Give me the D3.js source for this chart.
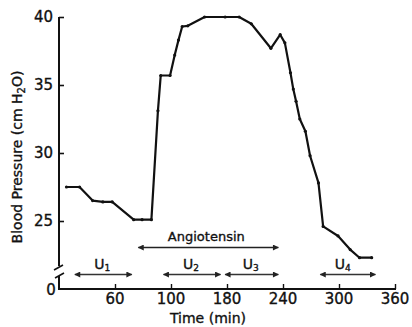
<!DOCTYPE html>
<html>
<head>
<meta charset="utf-8">
<script src="https://cdn.jsdelivr.net/npm/d3@7"></script>
<style>
  html, body { margin: 0; padding: 0; background: #fff; }
  svg { display: block; }
  text { font-family: "DejaVu Sans", sans-serif; fill: #111; stroke: #111; stroke-width: 0.35px; }
</style>
</head>
<body>
<script>
// ---- data ----
const timeMin = [8, 22, 36, 47, 57, 80, 89, 99, 106, 109, 119, 124, 128, 132, 138, 156, 178, 193, 206, 227, 237, 242, 248, 251, 254, 258, 264, 269, 278, 283, 299, 312, 322, 335];
const pressure = [27.5, 27.5, 26.5, 26.4, 26.4, 25.1, 25.1, 25.1, 33.1, 35.7, 35.7, 37.2, 38.3, 39.3, 39.35, 40.0, 40.0, 40.0, 39.5, 37.7, 38.7, 38.1, 35.9, 34.7, 33.8, 32.5, 31.6, 29.8, 27.8, 24.6, 23.9, 22.9, 22.3, 22.3];
const yTicks = [25, 30, 35, 40];
const xTicks = [60, 120, 180, 240, 300, 360];
const xTickLabels = ["60", "100", "180", "240", "300", "360"];
const periodNames = ["U", "U", "U", "U"];
const periodSubs = ["1", "2", "3", "4"];
const periodStart = [17, 112, 178, 280];
const periodEnd = [78, 173, 235, 339];
const infusionLabel = "Angiotensin";
const infusionStart = 85;
const infusionEnd = 235;

const W = 412, H = 327;
const svg = d3.select("body").append("svg").attr("width", W).attr("height", H);

const x = d3.scaleLinear().domain([0, 360]).range([59, 395]);
const y = d3.scaleLinear().domain([25, 40]).range([221, 17]);
const axisY0 = 289; // baseline (0) position below the break

// defs: arrowheads
const defs = svg.append("defs");
function marker(id, orient) {
  defs.append("marker").attr("id", id)
    .attr("viewBox", "0 0 10 10").attr("refX", 9).attr("refY", 5)
    .attr("markerWidth", 7).attr("markerHeight", 6)
    .attr("markerUnits", "userSpaceOnUse")
    .attr("orient", orient)
    .append("path").attr("d", "M0,0 L10,5 L0,10 Z").attr("fill", "#222");
}
marker("ahEnd", "auto");
marker("ahStart", "auto-start-reverse");

// ---- axes ----
const axisStroke = "#111";
const yAxis = d3.axisRight(y).tickValues(yTicks).tickSize(5).tickFormat("");
const gy = svg.append("g").attr("transform", "translate(59,0)").call(yAxis);
gy.select(".domain").remove();
gy.selectAll(".tick line").attr("stroke", axisStroke).attr("stroke-width", 1.6);
svg.append("line").attr("x1", 59).attr("x2", 59).attr("y1", y(40)).attr("y2", 266)
  .attr("stroke", axisStroke).attr("stroke-width", 2);
// break marks
svg.append("path").attr("d", "M54,270 L63,265").attr("stroke", axisStroke).attr("stroke-width", 1.6).attr("fill", "none");
svg.append("path").attr("d", "M55,278 L64,273").attr("stroke", axisStroke).attr("stroke-width", 1.6).attr("fill", "none");
svg.append("line").attr("x1", 59).attr("x2", 59).attr("y1", 276).attr("y2", axisY0)
  .attr("stroke", axisStroke).attr("stroke-width", 2);

// y tick labels
svg.append("g").selectAll("text").data(yTicks).join("text")
  .attr("x", 53).attr("y", d => y(d)).attr("dy", "0.36em")
  .attr("text-anchor", "end").attr("font-size", 15).text(d => d);
svg.append("text").attr("x", 51).attr("y", 290).attr("dy", "0.36em")
  .attr("text-anchor", "middle").attr("font-size", 15).text("0");

// x axis
const xAxis = d3.axisTop(x).tickValues(xTicks).tickSize(5).tickFormat("");
const gx = svg.append("g").attr("transform", `translate(0,${axisY0})`).call(xAxis);
gx.select(".domain").remove();
gx.selectAll(".tick line").attr("stroke", axisStroke).attr("stroke-width", 1.4);
svg.append("line").attr("x1", 58).attr("x2", x(360) + 1).attr("y1", axisY0).attr("y2", axisY0)
  .attr("stroke", axisStroke).attr("stroke-width", 2);
svg.append("g").selectAll("text").data(xTicks).join("text")
  .attr("x", d => x(d)).attr("y", 304)
  .attr("text-anchor", "middle").attr("font-size", 15)
  .text((d, i) => xTickLabels[i]);

// axis titles
svg.append("text").attr("x", 208).attr("y", 323).attr("text-anchor", "middle")
  .attr("font-size", 14).text("Time (min)");
const yl = svg.append("text").attr("transform", "translate(22,157) rotate(-90)")
  .attr("text-anchor", "middle").attr("font-size", 14);
yl.append("tspan").text("Blood Pressure (cm H");
yl.append("tspan").attr("font-size", 10).attr("dy", 3).text("2");
yl.append("tspan").attr("dy", -3).text("O)");

// ---- series ----
const pts = timeMin.map((t, i) => [t, pressure[i]]);
svg.append("path").datum(pts)
  .attr("d", d3.line().x(d => x(d[0])).y(d => y(d[1])))
  .attr("fill", "none").attr("stroke", "#111").attr("stroke-width", 2.2)
  .attr("stroke-linejoin", "round");
svg.append("g").selectAll("circle").data(pts).join("circle")
  .attr("cx", d => x(d[0])).attr("cy", d => y(d[1])).attr("r", 1.6).attr("fill", "#111");

// ---- infusion annotation ----
svg.append("line")
  .attr("x1", x(infusionStart)).attr("x2", x(infusionEnd))
  .attr("y1", 247.5).attr("y2", 247.5)
  .attr("stroke", "#222").attr("stroke-width", 1.6)
  .attr("marker-start", "url(#ahStart)").attr("marker-end", "url(#ahEnd)");
svg.append("text").attr("x", (x(infusionStart) + x(infusionEnd)) / 2 - 2).attr("y", 241)
  .attr("text-anchor", "middle").attr("font-size", 13).text(infusionLabel);

// ---- urine collection periods ----
periodStart.forEach((s, i) => {
  const e = periodEnd[i];
  svg.append("line")
    .attr("x1", x(s)).attr("x2", x(e)).attr("y1", 274.5).attr("y2", 274.5)
    .attr("stroke", "#333").attr("stroke-width", 1.4)
    .attr("marker-start", "url(#ahStart)").attr("marker-end", "url(#ahEnd)");
  const t = svg.append("text")
    .attr("x", (x(s) + x(e)) / 2 - (i === 3 ? 5 : 1)).attr("y", 269)
    .attr("text-anchor", "middle").attr("font-size", 14);
  t.append("tspan").text(periodNames[i]);
  t.append("tspan").attr("font-size", 9).attr("dy", 2).text(periodSubs[i]);
});
</script>
</body>
</html>
